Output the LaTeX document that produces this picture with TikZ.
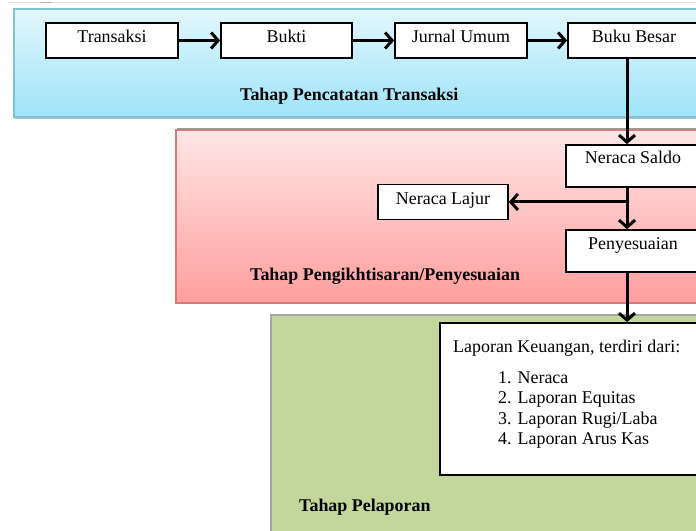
\documentclass[tikz,border=0pt]{standalone}
\usepackage{fontspec}
\setmainfont{Liberation Serif}
\usetikzlibrary{arrows.meta}
\definecolor{bluetop}{HTML}{E2F7FD}
\definecolor{bluebot}{HTML}{9FE3F8}
\definecolor{blueedge}{HTML}{7FC3D8}
\definecolor{redtop}{HTML}{FFE6E6}
\definecolor{redbot}{HTML}{FF9E9E}
\definecolor{rededge}{HTML}{D97A7A}
\definecolor{greenfill}{HTML}{C3D69B}
\definecolor{greenedge}{HTML}{A5A5A5}
\begin{document}
\begin{tikzpicture}[x=1bp,y=-1bp,
  box/.style={draw=black, line width=1.8bp, fill=white, inner sep=0pt,
    font=\fontsize{18}{21}\selectfont},
  txt/.style={inner sep=0pt, anchor=base west, font=\fontsize{18}{21}\selectfont},
  stage/.style={inner sep=0pt, anchor=base west, font=\fontsize{18}{21}\selectfont\bfseries},
  flow/.style={line width=3bp, -{Straight Barb[length=7bp,width=16bp]}},
  band/.style={line width=1.2bp}
]
\useasboundingbox (0,0) rectangle (696,531);
\clip (0,0) rectangle (696,531);
% faint top rule
\draw[line width=1bp, black!10] (8,2.5) -- (696,2.5);
\draw[line width=1bp, black!30] (40,2.5) -- (52,2.5);
% bands
\shade[top color=bluetop, bottom color=bluebot] (14,9) rectangle (705,117);
\draw[band, draw=blueedge] (14,9) rectangle (705,117);
\draw[line width=1.2bp, black!25] (14,118.2) -- (705,118.2);
\shade[top color=redtop, bottom color=redbot] (176,130) rectangle (705,303);
\draw[band, draw=rededge] (176,130) rectangle (705,303);
\draw[line width=1.5bp, black!40] (177,128.5) -- (705,128.5);
\fill[greenfill] (271,315) rectangle (705,540);
\draw[line width=1.6bp, draw=greenedge] (271,315) rectangle (705,540);
% boxes
\node[box, minimum width=132bp, text height=20bp, text depth=15bp] (tr) at (112,40.5) {Transaksi};
\node[box, minimum width=131bp, text height=20bp, text depth=15bp] (bk) at (286.5,40.5) {Bukti};
\node[box, minimum width=132bp, text height=20bp, text depth=15bp] (ju) at (461,40.5) {Jurnal Umum};
\node[box, minimum width=132bp, text height=20bp, text depth=15bp] (bb) at (634,40.5) {Buku Besar};
\node[box, minimum width=134bp, text height=19bp, text depth=23bp] (ns) at (633,166) {Neraca Saldo};
\node[box, minimum width=130bp, text height=20bp, text depth=15bp] (nl) at (443,202) {Neraca Lajur};
\node[box, minimum width=134bp, text height=20bp, text depth=22bp] (py) at (633,251) {Penyesuaian};
\node[box, minimum width=320bp, minimum height=152bp] (lap) at (600,399) {};
\node[txt] (lk) at (453,352) {Laporan Keuangan, terdiri dari:};
\node[txt] (l1) at (498,383) {1. Neraca};
\node[txt] (l2) at (498,403.5) {2. Laporan Equitas};
\node[txt] (l3) at (498,424) {3. Laporan Rugi/Laba};
\node[txt] (l4) at (498,444.5) {4. Laporan Arus Kas};
% stage labels
\node[stage] (s1) at (240,101) {Tahap Pencatatan Transaksi};
\node[stage] (s2) at (250,280) {Tahap Pengikhtisaran/Penyesuaian};
\node[stage] (s3) at (299,511) {Tahap Pelaporan};
% connectors
\coordinate (vx) at (627,0);
\coordinate (br) at (627,202);
\draw[flow] (tr) -- (bk);
\draw[flow] (bk) -- (ju);
\draw[flow] (ju) -- (bb);
\draw[flow] (bb.south -| vx) -- (ns.north -| vx);
\draw[flow] (ns.south -| vx) -- (py.north -| vx);
\draw[flow] (br) -- (nl.east);
\draw[flow] (py.south -| vx) -- (lap.north -| vx);
\end{tikzpicture}
\end{document}
